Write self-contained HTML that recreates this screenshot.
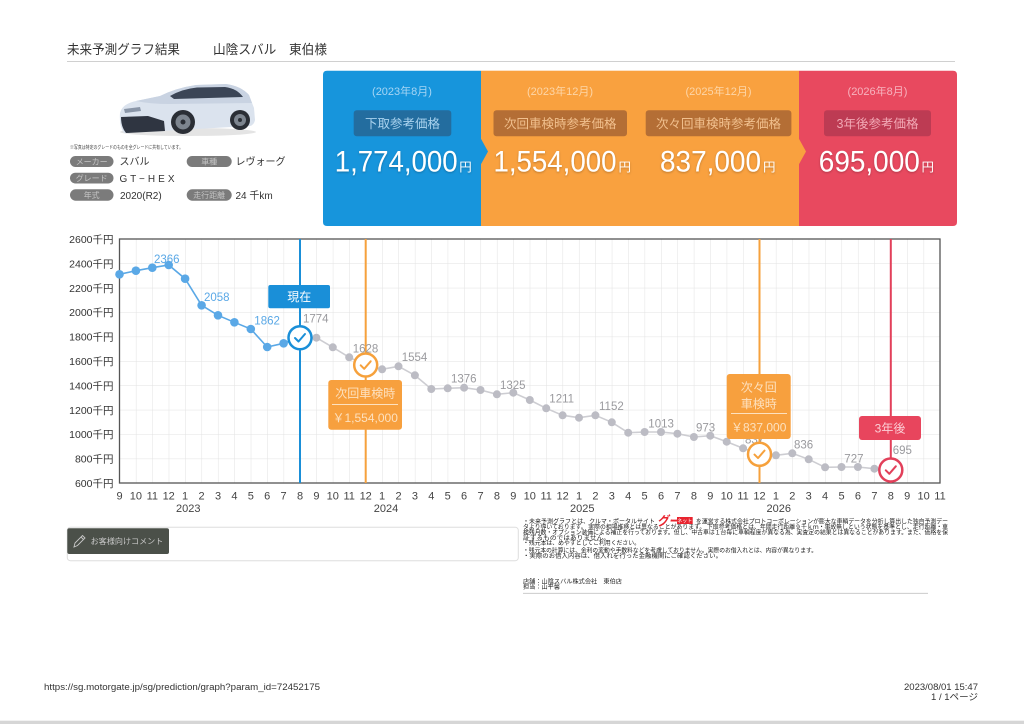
<!DOCTYPE html>
<html><head><meta charset="utf-8"><style>
html,body{margin:0;padding:0;background:#fff;}
svg{display:block;font-family:"Liberation Sans","Noto Sans CJK JP",sans-serif;}
</style></head><body>
<svg width="1024" height="724" viewBox="0 0 1024 724" xmlns="http://www.w3.org/2000/svg">
<defs>
<pattern id="grid" x="119.5" y="239" width="16.41" height="24.4" patternUnits="userSpaceOnUse">
<path d="M0,0 L0,24.4 M0,0 L16.41,0" stroke="#e2e2e2" stroke-width="1" fill="none"/>
</pattern>
<filter id="sh" x="-10%" y="-20%" width="120%" height="150%"><feDropShadow dx="0" dy="1" stdDeviation="1" flood-color="#000" flood-opacity="0.25"/></filter>
</defs>
<rect width="1024" height="724" fill="#fff"/>

<!-- Header -->
<text x="67" y="54" font-size="13" fill="#333" textLength="113" lengthAdjust="spacingAndGlyphs">未来予測グラフ結果</text>
<text x="213" y="54" font-size="13" fill="#333" textLength="114" lengthAdjust="spacingAndGlyphs">山陰スバル　東伯様</text>
<line x1="67" y1="61.5" x2="955" y2="61.5" stroke="#d0d0d0" stroke-width="1"/>

<!-- Car -->
<ellipse cx="188" cy="132" rx="68" ry="4" fill="#e4e4e4"/>
<path d="M120,113 Q122,104 136,101 L160,96 Q176,88 196,85 L226,84 Q241,86 249,95 L254,108 L255,120 Q254,125 250,126 L124,133 Q119,126 120,113 Z" fill="#dbe3ee"/>
<path d="M136,101 L160,96 Q176,88 196,85 L226,84 Q241,86 249,95 L252,103 L170,104 Q150,104 136,101 Z" fill="#c9d3e2"/>
<path d="M170,96 Q182,89 197,87.5 L225,87 Q237,88.5 243,97 L174,99 Z" fill="#3b4556"/>
<path d="M121,117 L148,116 L164,121 L165,131 L126,133 Q121,127 121,117 Z" fill="#2f3541"/>
<path d="M124,109 L140,107 L141,111 L125,113 Z" fill="#8a96a8"/>
<circle cx="183" cy="122" r="12" fill="#2a2e35"/>
<circle cx="183" cy="122" r="7.5" fill="#7d858f"/>
<circle cx="183" cy="122" r="2.5" fill="#2a2e35"/>
<circle cx="240" cy="120" r="10" fill="#2a2e35"/>
<circle cx="240" cy="120" r="6" fill="#7d858f"/>
<circle cx="240" cy="120" r="2" fill="#2a2e35"/>

<text x="70" y="149" font-size="5" fill="#444" textLength="113" lengthAdjust="spacingAndGlyphs">※写真は特定のグレードのものを全グレードに共有しています。</text>

<!-- Spec pills -->
<g font-size="8" fill="#c4c4c4" text-anchor="middle">
<rect x="70" y="156" width="43.5" height="11" rx="5.5" fill="#7b7b7b"/><text x="91.7" y="164.5">メーカー</text>
<rect x="186.7" y="156" width="45" height="11" rx="5.5" fill="#7b7b7b"/><text x="209.2" y="164.5">車種</text>
<rect x="70" y="172.7" width="43.5" height="10.8" rx="5.4" fill="#7b7b7b"/><text x="91.7" y="181">グレード</text>
<rect x="70" y="189.3" width="43.5" height="11.4" rx="5.7" fill="#7b7b7b"/><text x="91.7" y="198">年式</text>
<rect x="186.7" y="189.3" width="45" height="11.4" rx="5.7" fill="#7b7b7b"/><text x="209.2" y="198">走行距離</text>
</g>
<g font-size="10" fill="#333">
<text x="119.5" y="165">スバル</text>
<text x="235.5" y="165">レヴォーグ</text>
<text x="119.5" y="181.8" textLength="55" lengthAdjust="spacing">G T − H E X</text>
<text x="120" y="198.8">2020(R2)</text>
<text x="235.5" y="198.8">24 千km</text>
</g>

<!-- Banner -->
<path d="M327,70.7 L481,70.7 L481,226 L327,226 Q323,226 323,222 L323,74.7 Q323,70.7 327,70.7 Z" fill="#1795dc"/>
<rect x="481" y="70.7" width="318" height="155.3" fill="#f9a13f"/>
<path d="M799,70.7 L953,70.7 Q957,70.7 957,74.7 L957,222 Q957,226 953,226 L799,226 Z" fill="#e8495f"/>
<path d="M480,137 L488,151.5 L480,166 Z" fill="#1795dc"/>
<path d="M798,137 L806,151.5 L798,166 Z" fill="#f9a13f"/>

<g font-size="11" text-anchor="middle">
<text x="402" y="95" fill="#a6d5f4">(2023年8月)</text>
<text x="560" y="95" fill="#fdd6a8">(2023年12月)</text>
<text x="718.5" y="95" fill="#fdd6a8">(2025年12月)</text>
<text x="877.5" y="95" fill="#f7b4bf">(2026年8月)</text>
</g>
<rect x="353.7" y="110.3" width="97.6" height="26" rx="3" fill="#236d9f"/>
<rect x="493.5" y="110.3" width="133.5" height="26" rx="3" fill="#b46e35"/>
<rect x="645.7" y="110.3" width="145.7" height="26" rx="3" fill="#b46e35"/>
<rect x="824" y="110.3" width="107" height="26" rx="3" fill="#bd3b53"/>
<g font-size="12.5" text-anchor="middle">
<text x="402.5" y="128" fill="#a9d2ee">下取参考価格</text>
<text x="560.2" y="128" fill="#f1c08e">次回車検時参考価格</text>
<text x="718.5" y="128" fill="#f1c08e">次々回車検時参考価格</text>
<text x="877.5" y="128" fill="#f2a8b5">3年後参考価格</text>
</g>
<g fill="#fff" filter="url(#sh)">
<text x="334.7" y="171.5" font-size="30" textLength="123" lengthAdjust="spacingAndGlyphs">1,774,000</text>
<text x="459.3" y="171.5" font-size="12.5">円</text>
<text x="493.5" y="171.5" font-size="30" textLength="123" lengthAdjust="spacingAndGlyphs">1,554,000</text>
<text x="618.5" y="171.5" font-size="12.5">円</text>
<text x="660" y="171.5" font-size="30" textLength="101" lengthAdjust="spacingAndGlyphs">837,000</text>
<text x="763" y="171.5" font-size="12.5">円</text>
<text x="818.8" y="171.5" font-size="30" textLength="101" lengthAdjust="spacingAndGlyphs">695,000</text>
<text x="921.5" y="171.5" font-size="12.5">円</text>
</g>

<!-- Chart grid & frame -->
<rect x="119.5" y="239" width="820.5" height="244" fill="url(#grid)"/>
<rect x="119.5" y="239" width="820.5" height="244" fill="none" stroke="#555" stroke-width="1.3"/>

<!-- Y labels -->
<g font-size="10.5" fill="#333" text-anchor="end">
<text x="113.5" y="243">2600千円</text>
<text x="113.5" y="267.4">2400千円</text>
<text x="113.5" y="291.8">2200千円</text>
<text x="113.5" y="316.2">2000千円</text>
<text x="113.5" y="340.6">1800千円</text>
<text x="113.5" y="365">1600千円</text>
<text x="113.5" y="389.4">1400千円</text>
<text x="113.5" y="413.8">1200千円</text>
<text x="113.5" y="438.2">1000千円</text>
<text x="113.5" y="462.6">800千円</text>
<text x="113.5" y="487">600千円</text>
</g>

<!-- X labels -->
<g font-size="11" fill="#444" text-anchor="middle">
<text x="119.5" y="499.5">9</text><text x="135.9" y="499.5">10</text><text x="152.3" y="499.5">11</text><text x="168.7" y="499.5">12</text>
<text x="185.1" y="499.5">1</text><text x="201.6" y="499.5">2</text><text x="218" y="499.5">3</text><text x="234.4" y="499.5">4</text>
<text x="250.8" y="499.5">5</text><text x="267.2" y="499.5">6</text><text x="283.6" y="499.5">7</text><text x="300" y="499.5">8</text>
<text x="316.4" y="499.5">9</text><text x="332.8" y="499.5">10</text><text x="349.2" y="499.5">11</text><text x="365.7" y="499.5">12</text>
<text x="382.1" y="499.5">1</text><text x="398.5" y="499.5">2</text><text x="414.9" y="499.5">3</text><text x="431.3" y="499.5">4</text>
<text x="447.7" y="499.5">5</text><text x="464.1" y="499.5">6</text><text x="480.5" y="499.5">7</text><text x="496.9" y="499.5">8</text>
<text x="513.3" y="499.5">9</text><text x="529.8" y="499.5">10</text><text x="546.2" y="499.5">11</text><text x="562.6" y="499.5">12</text>
<text x="579" y="499.5">1</text><text x="595.4" y="499.5">2</text><text x="611.8" y="499.5">3</text><text x="628.2" y="499.5">4</text>
<text x="644.6" y="499.5">5</text><text x="661" y="499.5">6</text><text x="677.4" y="499.5">7</text><text x="693.9" y="499.5">8</text>
<text x="710.3" y="499.5">9</text><text x="726.7" y="499.5">10</text><text x="743.1" y="499.5">11</text><text x="759.5" y="499.5">12</text>
<text x="775.9" y="499.5">1</text><text x="792.3" y="499.5">2</text><text x="808.7" y="499.5">3</text><text x="825.1" y="499.5">4</text>
<text x="841.5" y="499.5">5</text><text x="857.9" y="499.5">6</text><text x="874.4" y="499.5">7</text><text x="890.8" y="499.5">8</text>
<text x="907.2" y="499.5">9</text><text x="923.6" y="499.5">10</text><text x="940" y="499.5">11</text>
<text x="188.3" y="512">2023</text><text x="386" y="512">2024</text><text x="582.3" y="512">2025</text><text x="778.8" y="512">2026</text>
</g>

<!-- Marker lines -->
<line x1="300" y1="239" x2="300" y2="483" stroke="#1a8fd8" stroke-width="2"/>
<line x1="365.7" y1="239" x2="365.7" y2="483" stroke="#f6a13c" stroke-width="2"/>
<line x1="759.5" y1="239" x2="759.5" y2="483" stroke="#f6a13c" stroke-width="2"/>
<line x1="890.8" y1="239" x2="890.8" y2="483" stroke="#e2405a" stroke-width="2"/>

<!-- Series -->
<polyline fill="none" stroke="#5aa8e6" stroke-width="1.6" points="119.5,274.3 135.9,270.7 152.3,267.7 168.7,265 185.1,278.7 201.6,305.3 218,315.3 234.4,322.3 250.8,329 267.2,347 283.6,343.3 300,337.7"/>
<polyline fill="none" stroke="#cdcdd2" stroke-width="1.6" points="300,337.7 316.4,337.7 332.8,347.3 349.2,357.3 365.7,365 382.1,369.3 398.5,366.3 414.9,375.3 431.3,389 447.7,388.3 464.1,387.7 480.5,390 496.9,394.3 513.3,392.7 529.8,400 546.2,408.3 562.6,415.3 579,417.7 595.4,415.3 611.8,422.3 628.2,432.7 644.6,432 661,432 677.4,433.7 693.9,437 710.3,435.7 726.7,441.7 743.1,448.3 759.5,454.3 775.9,455.3 792.3,453.3 808.7,459.3 825.1,467.3 841.5,467 857.9,467 874.4,468.7 890.8,470"/>
<g fill="#5aa8e6">
<circle cx="119.5" cy="274.3" r="4.3"/><circle cx="135.9" cy="270.7" r="4.3"/><circle cx="152.3" cy="267.7" r="4.3"/><circle cx="168.7" cy="265" r="4.3"/>
<circle cx="185.1" cy="278.7" r="4.3"/><circle cx="201.6" cy="305.3" r="4.3"/><circle cx="218" cy="315.3" r="4.3"/><circle cx="234.4" cy="322.3" r="4.3"/>
<circle cx="250.8" cy="329" r="4.3"/><circle cx="267.2" cy="347" r="4.3"/><circle cx="283.6" cy="343.3" r="4.3"/>
</g>
<g fill="#bcbcc4">
<circle cx="316.4" cy="337.7" r="4"/><circle cx="332.8" cy="347.3" r="4"/><circle cx="349.2" cy="357.3" r="4"/>
<circle cx="382.1" cy="369.3" r="4"/><circle cx="398.5" cy="366.3" r="4"/><circle cx="414.9" cy="375.3" r="4"/><circle cx="431.3" cy="389" r="4"/>
<circle cx="447.7" cy="388.3" r="4"/><circle cx="464.1" cy="387.7" r="4"/><circle cx="480.5" cy="390" r="4"/><circle cx="496.9" cy="394.3" r="4"/>
<circle cx="513.3" cy="392.7" r="4"/><circle cx="529.8" cy="400" r="4"/><circle cx="546.2" cy="408.3" r="4"/><circle cx="562.6" cy="415.3" r="4"/>
<circle cx="579" cy="417.7" r="4"/><circle cx="595.4" cy="415.3" r="4"/><circle cx="611.8" cy="422.3" r="4"/><circle cx="628.2" cy="432.7" r="4"/>
<circle cx="644.6" cy="432" r="4"/><circle cx="661" cy="432" r="4"/><circle cx="677.4" cy="433.7" r="4"/><circle cx="693.9" cy="437" r="4"/>
<circle cx="710.3" cy="435.7" r="4"/><circle cx="726.7" cy="441.7" r="4"/><circle cx="743.1" cy="448.3" r="4"/>
<circle cx="775.9" cy="455.3" r="4"/><circle cx="792.3" cy="453.3" r="4"/><circle cx="808.7" cy="459.3" r="4"/><circle cx="825.1" cy="467.3" r="4"/>
<circle cx="841.5" cy="467" r="4"/><circle cx="857.9" cy="467" r="4"/><circle cx="874.4" cy="468.7" r="4"/>
</g>

<!-- Value labels -->
<g font-size="11.5" fill="#5aa8e6">
<text x="154" y="263">2366</text>
<text x="204" y="301">2058</text>
<text x="254.3" y="324.5">1862</text>
</g>
<g font-size="11.5" fill="#9a9a9e">
<text x="303" y="322.7">1774</text>
<text x="352.7" y="352.7">1628</text>
<text x="401.7" y="361">1554</text>
<text x="451" y="382.3">1376</text>
<text x="500" y="389">1325</text>
<text x="549.3" y="402.7">1211</text>
<text x="599" y="410">1152</text>
<text x="648.3" y="427.3">1013</text>
<text x="696" y="431.7">973</text>
<text x="745" y="443.5">837</text>
<text x="794" y="448.3">836</text>
<text x="844.3" y="462.3">727</text>
<text x="892.7" y="454">695</text>
</g>

<!-- Callouts -->
<rect x="268.3" y="285" width="61.7" height="23.3" rx="2" fill="#1a8fd8"/>
<text x="299.2" y="301" font-size="12" fill="#fff" text-anchor="middle">現在</text>

<rect x="328.3" y="380" width="73.7" height="49.7" rx="3" fill="#f7a03e"/>
<text x="365.2" y="397.5" font-size="12" fill="#fde1bf" text-anchor="middle">次回車検時</text>
<line x1="332" y1="404.5" x2="398" y2="404.5" stroke="#fde1bf" stroke-width="1"/>
<text x="365.2" y="421.8" font-size="12" fill="#fde1bf" text-anchor="middle">￥1,554,000</text>

<rect x="726.7" y="374" width="64" height="65" rx="3" fill="#f7a03e"/>
<text x="758.7" y="391.5" font-size="12" fill="#fde1bf" text-anchor="middle">次々回</text>
<text x="758.7" y="407.8" font-size="12" fill="#fde1bf" text-anchor="middle">車検時</text>
<line x1="731" y1="413.5" x2="787" y2="413.5" stroke="#fde1bf" stroke-width="1"/>
<text x="758.7" y="431.7" font-size="12" fill="#fde1bf" text-anchor="middle">￥837,000</text>

<rect x="859" y="416" width="62" height="24" rx="3" fill="#e8455d"/>
<text x="890" y="432.5" font-size="12" fill="#fbd0d7" text-anchor="middle">3年後</text>

<!-- Check markers -->
<g fill="#fff" stroke-width="2.5">
<circle cx="300" cy="337.7" r="11.5" stroke="#1a8fd8"/>
<circle cx="365.7" cy="365" r="11.5" stroke="#f6a13c"/>
<circle cx="759.5" cy="454.3" r="11.5" stroke="#f6a13c"/>
<circle cx="890.8" cy="470" r="11.5" stroke="#e2405a"/>
</g>
<g fill="none" stroke-width="2" stroke-linecap="round" stroke-linejoin="round">
<path d="M295,338 L298.5,341.5 L305,334" stroke="#1a8fd8"/>
<path d="M360.7,365.3 L364.2,368.8 L370.7,361.3" stroke="#f6a13c"/>
<path d="M754.5,454.6 L758,458.1 L764.5,450.6" stroke="#f6a13c"/>
<path d="M885.8,470.3 L889.3,473.8 L895.8,466.3" stroke="#e2405a"/>
</g>

<!-- Comment box -->
<rect x="67.3" y="527.3" width="451" height="33.4" rx="3" fill="#fff" stroke="#dedede" stroke-width="1"/>
<rect x="67.3" y="528.3" width="101.7" height="25.7" rx="2" fill="#4b5049"/>
<path d="M74,547 L75,543 L82.5,535.5 L85,538 L77.5,545.5 Z M81,537 L83.5,539.5" fill="none" stroke="#c8c8c8" stroke-width="0.9"/>
<text x="90.7" y="544" font-size="8" fill="#c8c8c8" textLength="72.6" lengthAdjust="spacingAndGlyphs">お客様向けコメント</text>

<!-- Notes -->
<g font-size="6" fill="#1a1a1a" lengthAdjust="spacingAndGlyphs">
<text x="523" y="523.3" textLength="132" lengthAdjust="spacingAndGlyphs">・未来予測グラフとは、クルマ・ポータルサイト</text>
<text x="696" y="523.3" textLength="252" lengthAdjust="spacingAndGlyphs">を運営する株式会社プロトコーポレーションが膨大な車輌データを分析し算出した独自予測デー</text>
<text x="523" y="529" textLength="425" lengthAdjust="spacingAndGlyphs">タより導いております。 実際の相場推移とは異なることがあります。 下取参考価格とは、年間走行距離９千ｋｍ・事故無しという状態を基準とし、走行距離・車</text>
<text x="523" y="534.6" textLength="425" lengthAdjust="spacingAndGlyphs">検残月数・オプション装備による補正を行っております。但し、中古車は１台毎に車輌程度が異なる為、実査定の結果とは異なることがあります。また、価格を保</text>
<text x="523" y="539.8" textLength="87" lengthAdjust="spacingAndGlyphs">証するものではありません。</text>
<text x="523" y="545.2" textLength="117" lengthAdjust="spacingAndGlyphs">・残元本は、めやすとしてご利用ください。</text>
<text x="523" y="552.6" textLength="294" lengthAdjust="spacingAndGlyphs">・残元本の計算には、金利の変動や手数料などを考慮しておりません。実際のお借入れとは、内容が異なります。</text>
<text x="523" y="558" textLength="199" lengthAdjust="spacingAndGlyphs">・実際のお借入内容は、借入れを行った金融機関にご確認ください。</text>
</g>
<text x="657" y="525.5" font-size="13" font-weight="bold" font-style="italic" fill="#e8242f" textLength="23" lengthAdjust="spacingAndGlyphs">グー</text>
<rect x="677" y="517" width="15.7" height="7" fill="#e8242f"/>
<text x="684.8" y="522.6" font-size="5" fill="#fff" text-anchor="middle">ネット</text>

<text x="523" y="583.7" font-size="6" fill="#1a1a1a" textLength="99" lengthAdjust="spacingAndGlyphs">店舗：山陰スバル株式会社　東伯店</text>
<text x="523" y="589.2" font-size="6" fill="#1a1a1a" textLength="37" lengthAdjust="spacingAndGlyphs">担当：山平馨</text>
<line x1="523" y1="593.3" x2="928" y2="593.3" stroke="#c4c4c4" stroke-width="0.8"/>

<!-- Footer -->
<text x="44" y="690" font-size="9" fill="#333" textLength="276" lengthAdjust="spacingAndGlyphs">https://sg.motorgate.jp/sg/prediction/graph?param_id=72452175</text>
<text x="978" y="690" font-size="9" fill="#333" text-anchor="end" textLength="74" lengthAdjust="spacingAndGlyphs">2023/08/01 15:47</text>
<text x="978" y="699.8" font-size="9" fill="#333" text-anchor="end" textLength="47" lengthAdjust="spacingAndGlyphs">1 / 1ページ</text>
<rect x="0" y="720.7" width="1024" height="3.3" fill="#d6d6d6"/>
</svg>
</body></html>
